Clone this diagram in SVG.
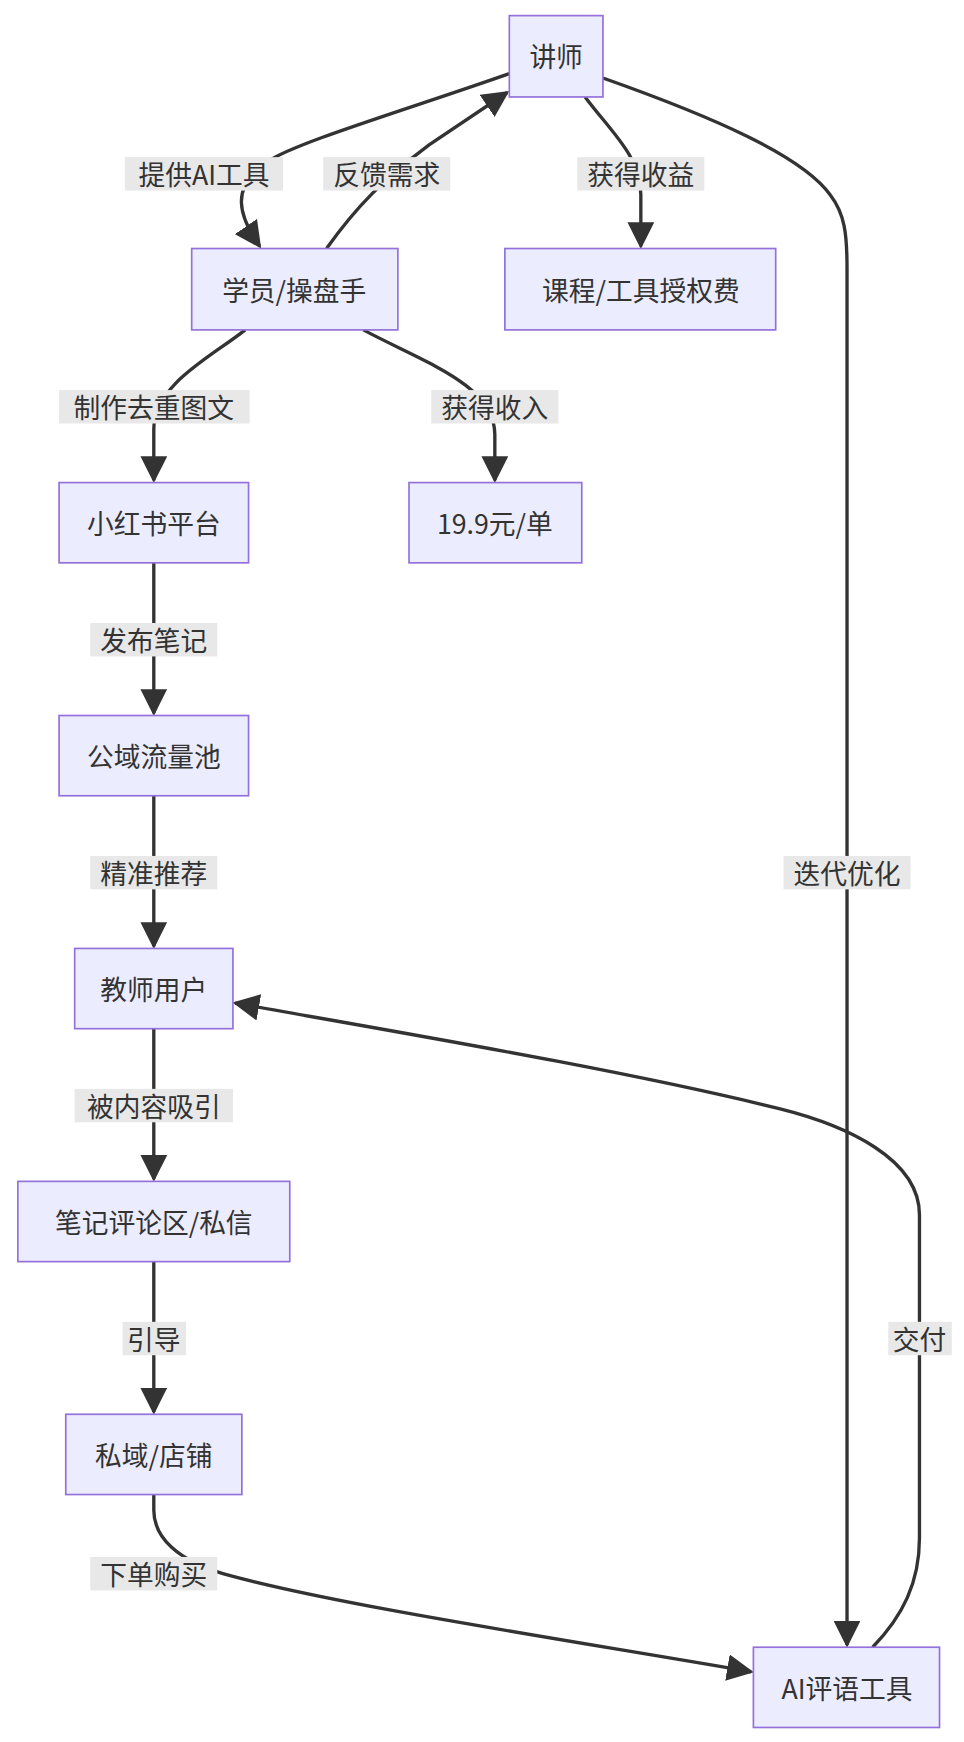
<svg xmlns="http://www.w3.org/2000/svg" width="964" height="1742" viewBox="0 0 964 1742">
<style>
.n rect{fill:#ECECFF;stroke:#9370DB;stroke-width:1.5}
text{font-family:"Noto Sans CJK SC","Liberation Sans",sans-serif;font-size:24px;fill:#333;text-anchor:middle;dominant-baseline:central}
.e path{fill:none;stroke:#333;stroke-width:3}
.l rect{fill:#e8e8e8}
</style>
<defs><marker id="a" viewBox="0 0 10 10" refX="9" refY="5" markerWidth="6" markerHeight="6" orient="auto" markerUnits="userSpaceOnUse" ><path d="M0,0L10,5L0,10z" fill="#333"/></marker>
<marker id="m" viewBox="0 0 10 10" refX="9" refY="5" markerWidth="8" markerHeight="8" orient="auto"><path d="M0,0L10,5L0,10z" fill="#333"/></marker></defs>
<g transform="scale(1.1145)">
<g class="e">
<path d="M457,66 C360,100 265,128 240,145 C205,168 215,195 233,221" marker-end="url(#m)"/>
<path d="M293,223 C320,185 345,160 385,130 L455,83" marker-end="url(#m)"/>
<path d="M525,87 C548,118 575,140 575,175 L575,221" marker-end="url(#m)"/>
<path d="M220,296 C190,320 138,345 138,385 L138,431" marker-end="url(#m)"/>
<path d="M326,296 C380,325 444,345 444,390 L444,431" marker-end="url(#m)"/>
<path d="M138,505 L138,640" marker-end="url(#m)"/>
<path d="M138,714 L138,849" marker-end="url(#m)"/>
<path d="M138,923 L138,1058" marker-end="url(#m)"/>
<path d="M138,1132 L138,1267" marker-end="url(#m)"/>
<path d="M138,1341 L138,1355 C138,1380 160,1400 200,1412 C300,1440 500,1470 674,1500" marker-end="url(#m)"/>
<path d="M541,70 C640,105 720,140 745,175 C758,192 760,210 760,240 L760,1476" marker-end="url(#m)"/>
<path d="M783,1478 C810,1450 825,1420 825,1380 L825,1090 C825,1040 760,1010 700,995 C560,960 350,925 211,900" marker-end="url(#m)"/>
</g>
<g class="l">
<rect x="112" y="141" width="142" height="30"/><text x="183" y="156">提供AI工具</text>
<rect x="290" y="141" width="114" height="30"/><text x="347" y="156">反馈需求</text>
<rect x="518" y="141" width="114" height="30"/><text x="575" y="156">获得收益</text>
<rect x="53" y="350" width="171" height="30"/><text x="138" y="365">制作去重图文</text>
<rect x="387" y="350" width="114" height="30"/><text x="444" y="365">获得收入</text>
<rect x="81" y="559" width="114" height="30"/><text x="138" y="574">发布笔记</text>
<rect x="81" y="768" width="114" height="30"/><text x="138" y="783">精准推荐</text>
<rect x="67" y="977" width="142" height="30"/><text x="138" y="992">被内容吸引</text>
<rect x="110" y="1186" width="57" height="30"/><text x="138" y="1201">引导</text>
<rect x="81" y="1397" width="114" height="30"/><text x="138" y="1412">下单购买</text>
<rect x="703" y="768" width="114" height="30"/><text x="760" y="783">迭代优化</text>
<rect x="797" y="1186" width="57" height="30"/><text x="825" y="1201">交付</text>
</g>
<g id="n1" class="n"><rect x="457" y="14" width="84" height="73"/><text x="499" y="50">讲师</text></g>
<g id="n2" class="n"><rect x="172" y="223" width="185" height="73"/><text x="264" y="260">学员/操盘手</text></g>
<g id="n3" class="n"><rect x="453" y="223" width="243" height="73"/><text x="575" y="260">课程/工具授权费</text></g>
<g id="n4" class="n"><rect x="53" y="433" width="170" height="72"/><text x="138" y="469">小红书平台</text></g>
<g id="n5" class="n"><rect x="367" y="433" width="155" height="72"/><text x="444" y="469">19.9元/单</text></g>
<g id="n6" class="n"><rect x="53" y="642" width="170" height="72"/><text x="138" y="678">公域流量池</text></g>
<g id="n7" class="n"><rect x="67" y="851" width="142" height="72"/><text x="138" y="887">教师用户</text></g>
<g id="n8" class="n"><rect x="16" y="1060" width="244" height="72"/><text x="138" y="1096">笔记评论区/私信</text></g>
<g id="n9" class="n"><rect x="59" y="1269" width="158" height="72"/><text x="138" y="1305">私域/店铺</text></g>
<g id="n10" class="n"><rect x="676" y="1478" width="167" height="72"/><text x="760" y="1514">AI评语工具</text></g>
</g>
</svg>
